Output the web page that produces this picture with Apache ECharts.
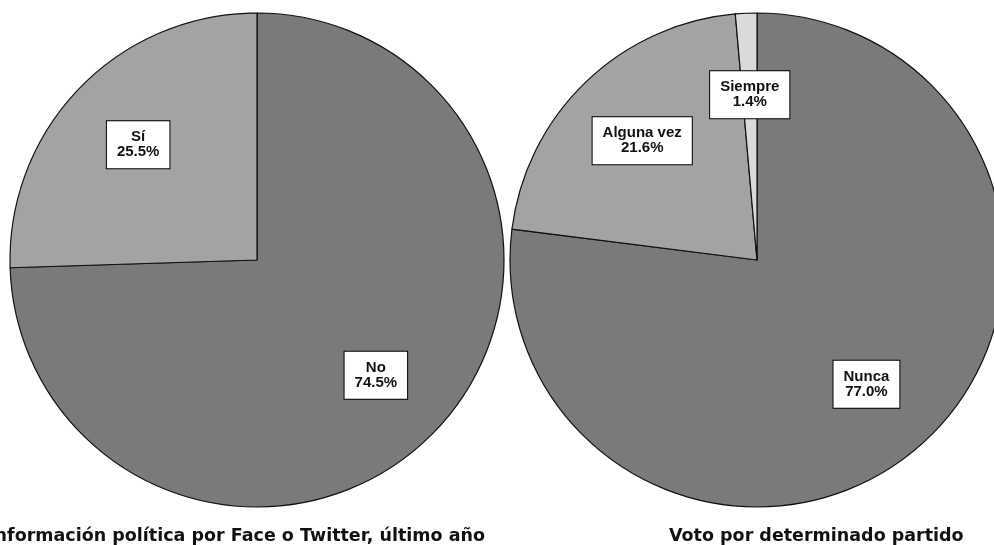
<!DOCTYPE html>
<html>
<head>
<meta charset="utf-8">
<script src="https://cdn.jsdelivr.net/npm/echarts@6/dist/echarts.min.js"></script>
<style>
  html, body { margin: 0; padding: 0; background: #fff; }
  #chart { width: 994px; height: 545px; }
</style>
</head>
<body>
<div id="chart"></div>
<script>
// datos de las dos tortas
let leftTitle = 'Información política por Face o Twitter, último año';
let leftNames = ['No', 'Sí'];
let leftValues = [74.5, 25.5];

let rightTitle = 'Voto por determinado partido';
let rightNames = ['Nunca', 'Alguna vez', 'Siempre'];
let rightValues = [77.0, 21.6, 1.4];

let sliceColors = ['#7a7a7c', '#a3a3a5', '#d9dadc'];

let myChart = echarts.init(document.getElementById('chart'));

const R = 247;
const LABEL_R = 0.67; // distancia de la etiqueta desde el centro (fracción del radio)

function makeData(names, values) {
    return names.map(function (n, i) {
        return { name: n, value: values[i], itemStyle: { color: sliceColors[i] } };
    });
}

// puntos de etiqueta en coordenadas polares: [radio, ángulo acumulado al centro del sector]
function labelPoints(names, values) {
    let acc = 0;
    return names.map(function (n, i) {
        let mid = acc + values[i] / 2;
        acc += values[i];
        return { name: n, value: [LABEL_R, mid], pct: values[i] };
    });
}

let fontFam = 'Liberation Sans, Arial, sans-serif';

let labelStyle = {
    show: true,
    position: 'inside',
    formatter: function (p) { return p.name + '\n' + p.data.pct.toFixed(1) + '%'; },
    fontFamily: fontFam,
    fontWeight: 'bold',
    fontSize: 15,
    lineHeight: 15,
    color: '#111',
    backgroundColor: '#fff',
    borderColor: '#000',
    borderWidth: 1,
    padding: [9, 10, 8, 10],
    align: 'center',
    verticalAlign: 'middle'
};

function pieSeries(center, names, values) {
    return {
        type: 'pie',
        center: center,
        radius: R,
        startAngle: 90,
        clockwise: true,
        silent: true,
        label: { show: false },
        labelLine: { show: false },
        itemStyle: { borderColor: '#111', borderWidth: 1.2 },
        data: makeData(names, values)
    };
}

function labelSeries(polarIndex, names, values) {
    return {
        type: 'scatter', coordinateSystem: 'polar', polarIndex: polarIndex,
        symbolSize: 0, silent: true, z: 5,
        itemStyle: { opacity: 1 },
        label: labelStyle,
        data: labelPoints(names, values)
    };
}

let titleText = {
    fontFamily: 'DejaVu Sans, Verdana, sans-serif',
    fontWeight: 'bold',
    fontSize: 17.5,
    color: '#111'
};

let option = {
    animation: false,
    title: [
        { text: leftTitle, right: 504, top: 522, textStyle: titleText },
        { text: rightTitle, left: 664, top: 522, textStyle: titleText }
    ],
    polar: [
        { center: [257, 260], radius: R },
        { center: [757, 260], radius: R }
    ],
    angleAxis: [
        { polarIndex: 0, type: 'value', min: 0, max: 100, startAngle: 90, clockwise: true, show: false },
        { polarIndex: 1, type: 'value', min: 0, max: 100, startAngle: 90, clockwise: true, show: false }
    ],
    radiusAxis: [
        { polarIndex: 0, type: 'value', min: 0, max: 1, show: false },
        { polarIndex: 1, type: 'value', min: 0, max: 1, show: false }
    ],
    series: [
        pieSeries([257, 260], leftNames, leftValues),
        pieSeries([757, 260], rightNames, rightValues),
        labelSeries(0, leftNames, leftValues),
        labelSeries(1, rightNames, rightValues)
    ]
};

myChart.setOption(option);
</script>
</body>
</html>
